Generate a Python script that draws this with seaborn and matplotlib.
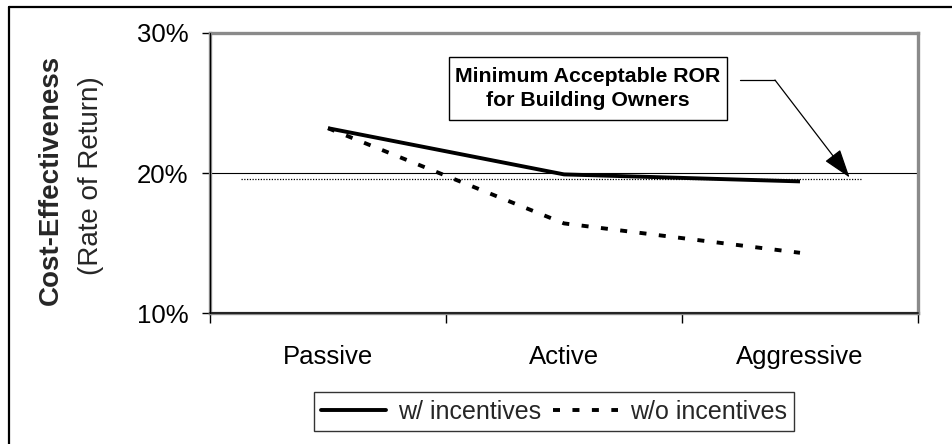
import matplotlib
matplotlib.use("Agg")
import matplotlib.pyplot as plt
from matplotlib.lines import Line2D
from matplotlib.patches import Rectangle
from matplotlib.ticker import FixedLocator
import pandas as pd
import seaborn as sns

# Rate of return by retrofit scenario (percent)
scenarios = ["Passive", "Active", "Aggressive"]
with_incentives = [23.2, 19.9, 19.4]
without_incentives = [23.2, 16.4, 14.3]
series_names = ["w/ incentives", "w/o incentives"]
min_acceptable_ror = 19.6
y_ticks = [10, 20, 30]
y_tick_labels = ["10%", "20%", "30%"]
ror_note = "Minimum Acceptable ROR\nfor Building Owners"

df = pd.DataFrame({
    "scenario": scenarios * 2,
    "ror": with_incentives + without_incentives,
    "series": [series_names[0]] * 3 + [series_names[1]] * 3,
})

sns.set_theme(style="white")
plt.rcParams["font.family"] = ["Liberation Sans", "DejaVu Sans"]

W, H = 953, 444
fig = plt.figure(figsize=(W / 100, H / 100), dpi=100)
ax = fig.add_axes([210 / W, 1 - 313 / H, (918 - 210) / W, (313 - 33) / H])

dash_pattern = (1.8, 3.2)
dash_map = {series_names[0]: "", series_names[1]: dash_pattern}
sns.lineplot(data=df, x="scenario", y="ror", hue="series", style="series",
             palette=["black", "black"], dashes=dash_map, sort=False,
             linewidth=2.8, ax=ax, legend=False)
for ln in ax.get_lines():
    ln.set_solid_capstyle("butt")
    ln.set_dash_capstyle("butt")

ax.set_xlim(-0.5, 2.5)
ax.set_ylim(10, 30)
ax.set_xlabel("")
ax.set_ylabel("")

# Value axis
ax.yaxis.set_major_locator(FixedLocator(y_ticks))
ax.set_yticklabels(y_tick_labels)
ax.tick_params(axis="y", which="major", left=True, length=6, width=1,
               color="black", pad=9.5, labelsize=18.5, labelcolor="black")

# Category axis: labels centred, ticks between categories
ax.set_xticks(range(len(scenarios)))
ax.set_xticklabels(scenarios)
ax.xaxis.set_minor_locator(FixedLocator([-0.5, 0.5, 1.5, 2.5]))
ax.tick_params(axis="x", which="major", length=0, pad=23, labelsize=18.5,
               labelcolor="black")
ax.tick_params(axis="x", which="minor", bottom=True, length=7, width=1,
               color="black")

# Gridline at 20%
ax.axhline(20, color="black", lw=0.8, zorder=1)

# Plot area frame
for side in ["left", "top", "right", "bottom"]:
    ax.spines[side].set_visible(True)
    ax.spines[side].set_color("#8a8a8a")
    ax.spines[side].set_linewidth(2.4)
ax.axhline(10, color="#222222", lw=1.4, zorder=5, clip_on=False)
ax.axvline(-0.5, color="black", lw=0.8, zorder=5, clip_on=False)

# Minimum acceptable ROR reference (dotted)
ax.plot([-0.37, 2.26], [min_acceptable_ror, min_acceptable_ror],
        color="black", lw=0.9, linestyle=(0, (1, 1.2)), zorder=2)

# Callout box
ax.add_patch(Rectangle((0.513, 23.79), 1.69 - 0.513, 28.29 - 23.79,
                       facecolor="white", edgecolor="black", lw=1.0, zorder=6))
ax.text(1.10, 26.05, ror_note, ha="center", va="center", fontsize=15.3,
        fontweight="bold", linespacing=1.35, color="black", zorder=7)

# Leader line and arrow to the reference level
ax.plot([1.746, 1.894], [26.64, 26.64], color="black", lw=0.9, zorder=6)
ax.annotate("", xy=(2.21, min_acceptable_ror + 0.08), xytext=(1.894, 26.64),
            arrowprops=dict(arrowstyle="-|>,head_length=18,head_width=6",
                            mutation_scale=1, color="black", lw=0.9,
                            shrinkA=0, shrinkB=0), zorder=6)

# Axis titles
fig.text(51 / W, 1 - 180 / H, "Cost-Effectiveness", rotation=90,
         ha="center", va="center", fontsize=20, fontweight="bold")
fig.text(91 / W, 1 - 176 / H, "(Rate of Return)", rotation=90,
         ha="center", va="center", fontsize=20)

# Legend
handles = [Line2D([], [], color="black", lw=2.8),
           Line2D([], [], color="black", lw=2.8, linestyle=(0, dash_pattern))]
leg = fig.legend(handles, series_names, loc="center",
                 bbox_to_anchor=(554 / W, 1 - 411.5 / H), ncol=2,
                 frameon=True, fancybox=False, shadow=False, fontsize=18,
                 handlelength=2.6, handletextpad=0.45, columnspacing=0.5,
                 borderpad=0.3, borderaxespad=0)
leg.get_frame().set_edgecolor("black")
leg.get_frame().set_linewidth(1.0)
leg.get_frame().set_facecolor("white")

# Outer chart border
fig.add_artist(Line2D([9 / W, 9 / W], [0, 1 - 7 / H], color="black", lw=1.6,
                      transform=fig.transFigure))
fig.add_artist(Line2D([9 / W, 1], [1 - 7 / H, 1 - 7 / H], color="black",
                      lw=1.6, transform=fig.transFigure))

fig.savefig("out.png", dpi=100, facecolor="white")
